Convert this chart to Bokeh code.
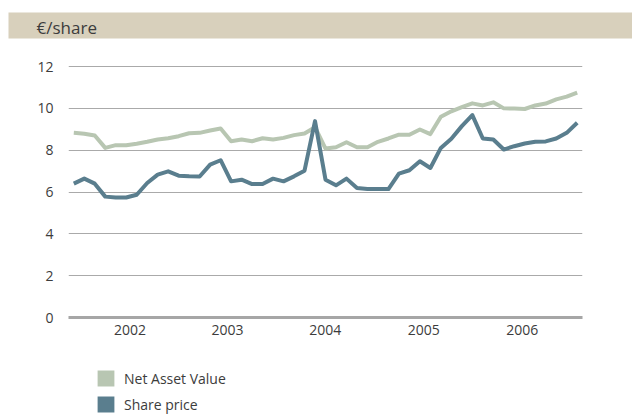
from bokeh.plotting import figure
from bokeh.layouts import column
from bokeh.models import Range1d, FixedTicker, Label, Legend, LegendItem
from bokeh.embed import file_html
from bokeh.resources import INLINE

# Net Asset Value (EUR per share), periodic observations
nav = [8.83, 8.79, 8.70, 8.11, 8.24, 8.24, 8.31, 8.40, 8.51, 8.57,
       8.67, 8.81, 8.83, 8.94, 9.04, 8.43, 8.51, 8.43, 8.57, 8.51,
       8.59, 8.72, 8.80, 9.10, 8.08, 8.14, 8.38, 8.14, 8.14, 8.40,
       8.56, 8.74, 8.74, 8.99, 8.77, 9.60, 9.86, 10.06, 10.24, 10.14,
       10.29, 10.00, 9.99, 9.97, 10.14, 10.23, 10.43, 10.56, 10.75]

# Share price (EUR)
share = [6.40, 6.64, 6.40, 5.78, 5.74, 5.74, 5.87, 6.43, 6.83, 6.99,
         6.78, 6.75, 6.74, 7.31, 7.52, 6.51, 6.59, 6.38, 6.38, 6.64,
         6.51, 6.75, 7.02, 9.39, 6.59, 6.32, 6.64, 6.19, 6.14, 6.14,
         6.14, 6.88, 7.04, 7.47, 7.15, 8.11, 8.55, 9.15, 9.68, 8.56,
         8.51, 8.03, 8.19, 8.32, 8.40, 8.42, 8.56, 8.83, 9.31]

period = list(range(len(nav)))

year_labels = ["2002", "2003", "2004", "2005", "2006"]
year_pos = [5.36, 14.65, 23.97, 33.37, 42.77]
y_ticks = [0, 2, 4, 6, 8, 10, 12]

NAV_COLOR = "#b8c6b2"
SHARE_COLOR = "#5a7e8e"
BAND_COLOR = "#d8d0bc"
TEXT_COLOR = "#3c3c3c"
FONT = "Open Sans"
W = 632
NAN = float("nan")


def bare(fig):
    fig.outline_line_color = None
    fig.grid.visible = False
    fig.border_fill_color = "white"
    fig.frame_align = False
    return fig


# ---- header band with unit label ----
header = bare(figure(width=W, height=40, output_backend="svg", toolbar_location=None,
                     x_range=Range1d(0, 624), y_range=Range1d(0, 26),
                     x_axis_location=None, y_axis_location=None,
                     min_border_left=8, min_border_right=0,
                     min_border_top=12, min_border_bottom=2))
header.background_fill_color = BAND_COLOR
header.add_layout(Label(x=28, y=11.5, text="€/share", text_font=FONT,
                        text_font_size="17px", text_color=TEXT_COLOR,
                        text_baseline="middle"))

# ---- main chart ----
p = figure(width=W, height=317, output_backend="svg", toolbar_location=None,
           x_range=Range1d(-0.505, 48.505), y_range=Range1d(0, 12.48),
           min_border_left=68, min_border_right=50, min_border_top=16,
           min_border_bottom=40)
p.outline_line_color = None
p.background_fill_color = "white"
p.border_fill_color = "white"
p.frame_align = False

p.xaxis.ticker = FixedTicker(ticks=year_pos)
p.xaxis.major_label_overrides = {pos: lab for pos, lab in zip(year_pos, year_labels)}
p.xaxis.axis_line_color = "#a6a6a6"
p.xaxis.axis_line_width = 3
p.xaxis.major_tick_line_color = None
p.xaxis.minor_tick_line_color = None
p.xaxis.major_tick_out = 0
p.xaxis.major_tick_in = 0
p.xaxis.major_label_standoff = 7
p.xaxis.major_label_text_font = FONT
p.xaxis.major_label_text_font_size = "14px"
p.xaxis.major_label_text_color = TEXT_COLOR

p.yaxis.ticker = FixedTicker(ticks=y_ticks)
p.yaxis.axis_line_color = None
p.yaxis.major_tick_line_color = None
p.yaxis.minor_tick_line_color = None
p.yaxis.major_tick_out = 0
p.yaxis.major_tick_in = 0
p.yaxis.major_label_standoff = 15
p.yaxis.major_label_text_font = FONT
p.yaxis.major_label_text_font_size = "14px"
p.yaxis.major_label_text_color = TEXT_COLOR

p.xgrid.visible = False
p.ygrid.ticker = FixedTicker(ticks=y_ticks)
p.ygrid.grid_line_color = "#aaaaaa"
p.ygrid.grid_line_width = 1

p.line(period, nav, line_width=4, color=NAV_COLOR, line_join="round")
p.line(period, share, line_width=4, color=SHARE_COLOR, line_join="round")

# ---- legend ----
lg = bare(figure(width=W, height=60, output_backend="svg", toolbar_location=None,
                 x_range=Range1d(0, 1), y_range=Range1d(0, 1),
                 x_axis_location=None, y_axis_location=None,
                 min_border_left=0, min_border_right=0,
                 min_border_top=0, min_border_bottom=0))
lg.background_fill_color = "white"
# swatch-only renderers (no visible data points)
r_nav = lg.quad(left=[NAN], right=[NAN], top=[NAN], bottom=[NAN],
                fill_color=NAV_COLOR, line_color=None)
r_share = lg.quad(left=[NAN], right=[NAN], top=[NAN], bottom=[NAN],
                  fill_color=SHARE_COLOR, line_color=None)
legend = Legend(items=[LegendItem(label="Net Asset Value", renderers=[r_nav]),
                       LegendItem(label="Share price", renderers=[r_share])],
                location=(95, 3), orientation="vertical",
                glyph_width=21, glyph_height=20, spacing=6, padding=0, margin=0,
                border_line_color=None, background_fill_alpha=0,
                label_standoff=8, label_text_font=FONT, label_text_font_size="14px",
                label_text_color=TEXT_COLOR)
lg.add_layout(legend, "center")

layout = column(header, p, lg, spacing=0)

open("out.html", "w").write(file_html(layout, INLINE))
